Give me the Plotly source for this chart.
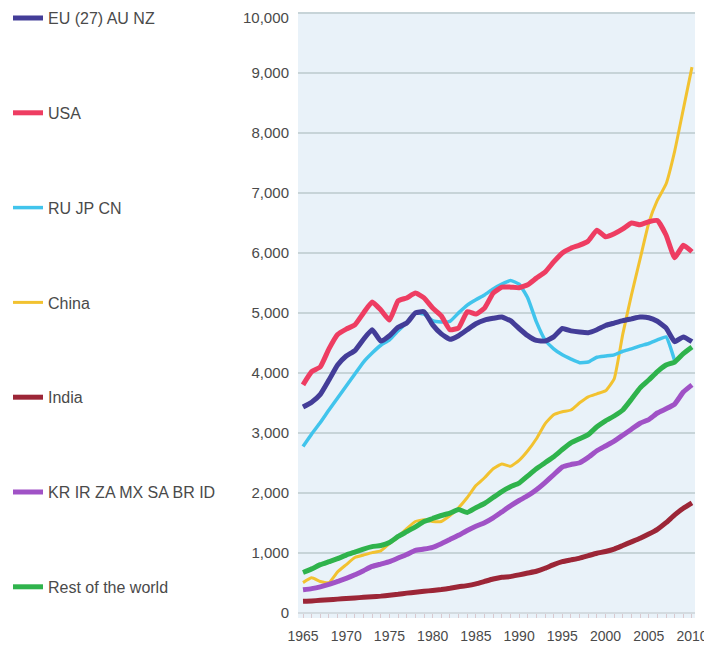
import plotly.graph_objects as go

years = list(range(1965, 2011))

eu = [3430, 3510, 3640, 3880, 4130, 4280, 4370, 4560, 4720, 4530, 4620, 4760, 4830, 5000, 5020, 4800,
      4650, 4560, 4620, 4720, 4820, 4880, 4910, 4930, 4870, 4740, 4620, 4540, 4530, 4600, 4740, 4700,
      4680, 4670, 4720, 4790, 4830, 4870, 4900, 4930, 4920, 4860, 4750, 4520, 4600, 4520]
usa = [3800, 4020, 4100, 4400, 4640, 4730, 4800, 5000, 5180, 5050, 4880, 5200, 5250, 5330, 5250, 5080,
       4950, 4720, 4750, 5020, 4980, 5080, 5330, 5430, 5430, 5420, 5470, 5580, 5680, 5850, 6000, 6080,
       6130, 6200, 6380, 6270, 6320, 6400, 6500, 6470, 6520, 6540, 6300, 5920, 6130, 6020]
ru_jp_cn_years = list(range(1965, 2009))
ru_jp_cn = [2770, 2980, 3170, 3380, 3580, 3780, 3980, 4180, 4330, 4460, 4550, 4700, 4840, 5000, 4980, 4870,
            4850, 4860, 5000, 5130, 5220, 5300, 5400, 5480, 5540, 5480, 5250, 4850, 4550, 4400, 4300, 4230,
            4170, 4180, 4260, 4280, 4300, 4360, 4400, 4450, 4490, 4550, 4600, 4200]
china = [500, 580, 520, 500, 680, 800, 920, 960, 1000, 1030, 1150, 1260, 1400, 1520, 1550, 1520,
         1520, 1620, 1750, 1920, 2120, 2250, 2400, 2480, 2440, 2540, 2700, 2900, 3150, 3300, 3350, 3380,
         3500, 3600, 3650, 3700, 3900, 4650, 5300, 5900, 6500, 6880, 7150, 7700, 8400, 9100]
india = [190, 195, 205, 215, 225, 235, 245, 255, 265, 275, 290, 305, 325, 340, 355, 370,
         385, 405, 430, 450, 480, 520, 560, 590, 600, 630, 660, 690, 740, 800, 850, 880,
         910, 950, 990, 1020, 1060, 1120, 1180, 1240, 1310, 1390, 1500, 1630, 1740, 1830]
kr_group = [380, 400, 430, 470, 520, 570, 630, 700, 770, 810, 850, 910, 970, 1040, 1060, 1090,
            1150, 1220, 1290, 1370, 1440, 1500, 1580, 1680, 1780, 1870, 1950, 2050, 2170, 2300, 2430, 2470,
            2500, 2590, 2700, 2780, 2860, 2960, 3060, 3160, 3220, 3330, 3400, 3480, 3680, 3800]
rest = [670, 730, 800, 850, 900, 960, 1010, 1060, 1100, 1120, 1170, 1270, 1350, 1430, 1520, 1570,
        1620, 1660, 1720, 1670, 1750, 1820, 1920, 2020, 2100, 2160, 2280, 2400, 2500, 2600, 2720, 2830,
        2900, 2970, 3100, 3200, 3280, 3380, 3560, 3750, 3880, 4020, 4130, 4180, 4320, 4430]

x_ticks = list(range(1965, 2011, 5))
y_ticks = list(range(0, 10001, 1000))
y_tick_labels = [f"{v:,}" for v in y_ticks]
y_top = y_ticks[-1]

# (name, x, y, color, width, legend rank)
series = [
    ("China", years, china, "#f2c230", 3, 4),
    ("RU JP CN", ru_jp_cn_years, ru_jp_cn, "#41c4ec", 3.5, 3),
    ("India", years, india, "#9c2637", 5, 5),
    ("KR IR ZA MX SA BR ID", years, kr_group, "#a052c6", 5, 6),
    ("Rest of the world", years, rest, "#2fb34c", 5, 7),
    ("EU (27) AU NZ", years, eu, "#433d98", 5, 1),
    ("USA", years, usa, "#ee3d62", 5, 2),
]

fig = go.Figure()
for name, xs, ys, color, w, rank in series:
    fig.add_trace(go.Scatter(
        x=xs, y=ys, mode="lines", name=name,
        line=dict(color=color, width=w, shape="spline", smoothing=0.4),
        legendrank=rank, legendgroup=name,
    ))

# top tick label drawn as an annotation, nudged down so it stays inside the page
shown_labels = y_tick_labels[:-1] + [""]
fig.add_annotation(
    xref="paper", yref="y", x=0, y=y_top, text=y_tick_labels[-1],
    showarrow=False, xanchor="right", yanchor="middle", xshift=-7, yshift=-4,
    font=dict(size=15, color="#4a4a4a"),
)

fig.update_layout(
    width=712, height=645,
    margin=dict(l=290, r=25, t=4, b=35, autoexpand=False),
    paper_bgcolor="white",
    plot_bgcolor="#e9f2f9",
    font=dict(family="Liberation Sans, Arial, sans-serif", color="#4a4a4a"),
    showlegend=True,
    legend=dict(
        xref="container", yref="paper",
        x=0.0, y=1.018, xanchor="left", yanchor="top",
        font=dict(size=16, color="#4a4a4a"),
        tracegroupgap=71,
        itemwidth=30,
        maxheight=1,
        bgcolor="rgba(0,0,0,0)",
        traceorder="grouped",
    ),
    xaxis=dict(
        range=[1964.42, 2010.35],
        tickmode="array", tickvals=x_ticks, ticktext=[str(v) for v in x_ticks],
        tickfont=dict(size=14, color="#4a4a4a"),
        showgrid=False, zeroline=False, showline=False,
        ticks="", ticklabelstandoff=8, ticklabeloverflow="allow",
        minor=dict(ticks="inside", dtick=1, tick0=1965, ticklen=4, tickcolor="#d9c9cf", tickwidth=1, showgrid=False),
        fixedrange=True,
    ),
    yaxis=dict(
        range=[-90, 10020],
        tickmode="array", tickvals=y_ticks, ticktext=shown_labels,
        tickfont=dict(size=15, color="#4a4a4a"),
        showgrid=True, gridcolor="#c7d4d8", gridwidth=2,
        zeroline=True, zerolinecolor="#d3dbe0", zerolinewidth=1.5,
        showline=False, ticks="", ticklabelstandoff=8, ticklabeloverflow="allow",
        fixedrange=True,
    ),
)

fig.write_html("out.html")
